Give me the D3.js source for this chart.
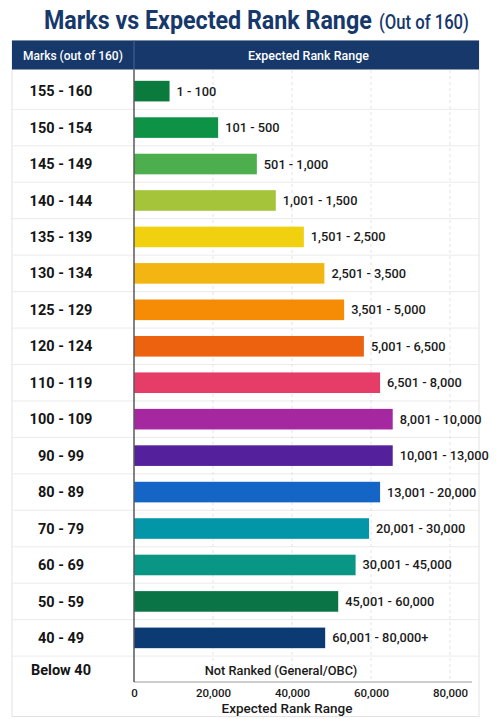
<!DOCTYPE html>
<html>
<head>
<meta charset="utf-8">
<script src="https://cdn.jsdelivr.net/npm/d3@7"></script>
<style>
  body { margin: 0; background: #fff; }
  svg { display: block; font-family: Roboto, "Noto Sans", sans-serif; }
</style>
</head>
<body>
<div id="chart"></div>
<script>
// marks bands, top to bottom
const markRanges = ["155 - 160", "150 - 154", "145 - 149", "140 - 144", "135 - 139", "130 - 134",
    "125 - 129", "120 - 124", "110 - 119", "100 - 109", "90 - 99", "80 - 89", "70 - 79",
    "60 - 69", "50 - 59", "40 - 49", "Below 40"];
const rankLabels = ["1 - 100", "101 - 500", "501 - 1,000", "1,001 - 1,500", "1,501 - 2,500",
    "2,501 - 3,500", "3,501 - 5,000", "5,001 - 6,500", "6,501 - 8,000", "8,001 - 10,000",
    "10,001 - 13,000", "13,001 - 20,000", "20,001 - 30,000", "30,001 - 45,000",
    "45,001 - 60,000", "60,001 - 80,000+", "Not Ranked (General/OBC)"];
// bar lengths as drawn on the picture's axis (no bar for the last row)
const barValues = [9000, 21300, 31100, 35900, 43000, 48200, 53200, 58200, 62300, 65500,
    65500, 62300, 59500, 56100, 51700, 48400, null];
const barColors = ["#0b7a3d", "#0e9346", "#4cae4c", "#a5c43a", "#f1d00f", "#f3b511", "#f68b06",
    "#ec620f", "#e53d67", "#a628a1", "#55209c", "#1565c6", "#0396a8", "#0a9684", "#0b7446",
    "#0c3b74", null];
const xTicks = [0, 20000, 40000, 60000, 80000];

const W = 504, H = 719;
const navy = "#16386b";
const tableLeft = 12, tableRight = 479, colSplit = 134;

const svg = d3.select("#chart").append("svg").attr("width", W).attr("height", H);

// squeeze a text horizontally so it fills [x, x + width], like the condensed face in the picture
function fitText(sel, x, y, width) {
    let w = sel.node().getComputedTextLength();
    let k = Math.min(1, width / w);
    sel.attr("x", 0).attr("y", 0).attr("text-anchor", "start")
        .attr("transform", "translate(" + x + "," + y + ") scale(" + k + ",1)");
    return sel;
}

// table frame
svg.append("rect").attr("x", tableLeft).attr("y", 40.5).attr("width", tableRight - tableLeft).attr("height", 676)
    .attr("fill", "#fff").attr("stroke", "#e2e2e2");

// title
let t1 = svg.append("text").attr("fill", navy).attr("font-size", 26).attr("font-weight", 700)
    .text("Marks vs Expected Rank Range");
fitText(t1, 44, 29, 328);
let t2 = svg.append("text").attr("fill", navy).attr("font-size", 19.5).attr("font-weight", 500)
    .text("(Out of 160)");
fitText(t2, 379, 29, 90);

// header band
svg.append("rect").attr("x", tableLeft).attr("y", 40.5).attr("width", tableRight - tableLeft).attr("height", 29)
    .attr("fill", navy);
svg.append("line").attr("x1", colSplit).attr("x2", colSplit).attr("y1", 40.5).attr("y2", 69.5)
    .attr("stroke", "#4a6690").attr("stroke-width", 1);
let h1 = svg.append("text").attr("dy", "0.35em").attr("fill", "#fff").attr("font-size", 13).attr("font-weight", 500)
    .text("Marks (out of 160)");
fitText(h1, 23, 55, 100);
let h2 = svg.append("text").attr("dy", "0.35em").attr("fill", "#fff").attr("font-size", 13.5).attr("font-weight", 500)
    .text("Expected Rank Range");
fitText(h2, 248, 55, 121);

// scales
const y = d3.scaleBand().domain(markRanges).range([72.9, 72.9 + 17 * 36.45]).paddingInner(0).paddingOuter(0);
const x = d3.scaleLinear().domain([0, 80000]).range([colSplit, 450]);
const axisY = 682;

// row separators
svg.append("g").selectAll("line").data(markRanges.slice(0, -1)).join("line")
    .attr("x1", tableLeft).attr("x2", tableRight)
    .attr("y1", d => y(d) + y.bandwidth()).attr("y2", d => y(d) + y.bandwidth())
    .attr("stroke", "#ebebeb");

// vertical dashed grid
svg.append("g").selectAll("line").data(xTicks.slice(1)).join("line")
    .attr("x1", d => x(d)).attr("x2", d => x(d)).attr("y1", 70).attr("y2", axisY)
    .attr("stroke", "#e3e3e3").attr("stroke-dasharray", "3,3");

// row labels
svg.append("g").selectAll("text").data(markRanges).join("text")
    .attr("x", 61).attr("y", (d, i) => y(d) + y.bandwidth() / 2 - (i === 16 ? 4 : 0)).attr("dy", "0.35em")
    .attr("text-anchor", "middle").attr("fill", "#151515")
    .attr("font-size", 14.5).attr("font-weight", 700)
    .text(d => d);

// bars
const rows = markRanges.map((m, i) => ({ mark: m, value: barValues[i], color: barColors[i], label: rankLabels[i] }));
const barH = 20.6;

svg.append("g").selectAll("rect").data(rows.filter(d => d.value !== null)).join("rect")
    .attr("x", x(0)).attr("y", d => y(d.mark) + (y.bandwidth() - barH) / 2)
    .attr("width", d => x(d.value) - x(0)).attr("height", barH)
    .attr("fill", d => d.color);

svg.append("g").selectAll("text").data(rows).join("text")
    .attr("x", d => d.value !== null ? x(d.value) + 7 : 281)
    .attr("y", (d, i) => y(d.mark) + y.bandwidth() / 2 - (d.value === null ? 4 : 0)).attr("dy", "0.35em")
    .attr("text-anchor", d => d.value !== null ? "start" : "middle")
    .attr("fill", "#1a1a1a").attr("font-size", 12.8).attr("font-weight", 500)
    .text(d => d.label);

// axes lines
svg.append("line").attr("x1", colSplit).attr("x2", 472).attr("y1", axisY).attr("y2", axisY)
    .attr("stroke", "#9a9a9a").attr("stroke-width", 1.2);
svg.append("line").attr("x1", colSplit).attr("x2", colSplit).attr("y1", 69.5).attr("y2", axisY)
    .attr("stroke", "#5a5a5a").attr("stroke-width", 1.5);

const xAxis = svg.append("g").attr("transform", "translate(0," + axisY + ")")
    .call(d3.axisBottom(x).tickValues(xTicks).tickSize(0).tickPadding(7).tickFormat(d3.format(",")));
xAxis.select(".domain").remove();
xAxis.selectAll("text").attr("fill", "#1a1a1a").attr("font-size", 11.5).attr("font-weight", 500)
    .attr("font-family", "Roboto, sans-serif");

svg.append("text").attr("x", 287).attr("y", 708).attr("dy", "0.35em").attr("text-anchor", "middle")
    .attr("fill", "#1a1a1a").attr("font-size", 13.5).attr("font-weight", 500)
    .text("Expected Rank Range");
</script>
</body>
</html>
